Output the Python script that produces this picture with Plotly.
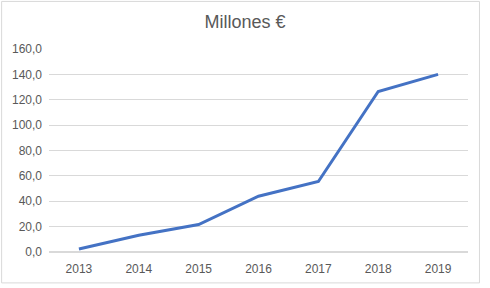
import plotly.graph_objects as go

years = ["2013", "2014", "2015", "2016", "2017", "2018", "2019"]
values = [2.3, 13.2, 21.6, 44.0, 55.6, 126.5, 140.0]

W, H = 490, 288
L, R, T, B = 48, 468, 49, 256  # plot area in pixels

def px_x(x):
    return (x - L) / (R - L)

def px_y(y):
    return (B - y) / (B - T)

fig = go.Figure(go.Scatter(
    x=years, y=values, mode="lines",
    line=dict(color="#4472C4", width=3),
    hoverinfo="skip",
))

fig.update_layout(
    width=W, height=H,
    margin=dict(l=L, r=W - R, t=T, b=H - B),
    paper_bgcolor="white", plot_bgcolor="white",
    separators=",.",
    font=dict(family="Liberation Sans, Arial, sans-serif", size=12, color="#595959"),
    title=dict(text="Millones €", x=0.5, xanchor="center", y=1 - 22 / H, yanchor="middle",
               font=dict(size=18, color="#595959")),
    showlegend=False,
    shapes=[dict(type="rect", xref="paper", yref="paper",
                 x0=px_x(0.5), x1=px_x(479.5), y0=px_y(287.5), y1=px_y(0.5),
                 line=dict(color="#d9d9d9", width=1), layer="below")],
)
fig.update_xaxes(type="category", range=[-0.5, len(years) - 0.5], showgrid=False,
                 showline=False, zeroline=False, ticks="", ticklabelstandoff=8,
                 tickfont=dict(size=12, color="#595959"))
fig.update_yaxes(range=[0, 160], dtick=20, tickformat=".1f", showgrid=True,
                 gridcolor="#d9d9d9", gridwidth=1, zeroline=True, zerolinecolor="#d9d9d9",
                 showline=False, ticks="", ticklabelstandoff=6,
                 tickfont=dict(size=12, color="#595959"))

fig.write_html("out.html")
